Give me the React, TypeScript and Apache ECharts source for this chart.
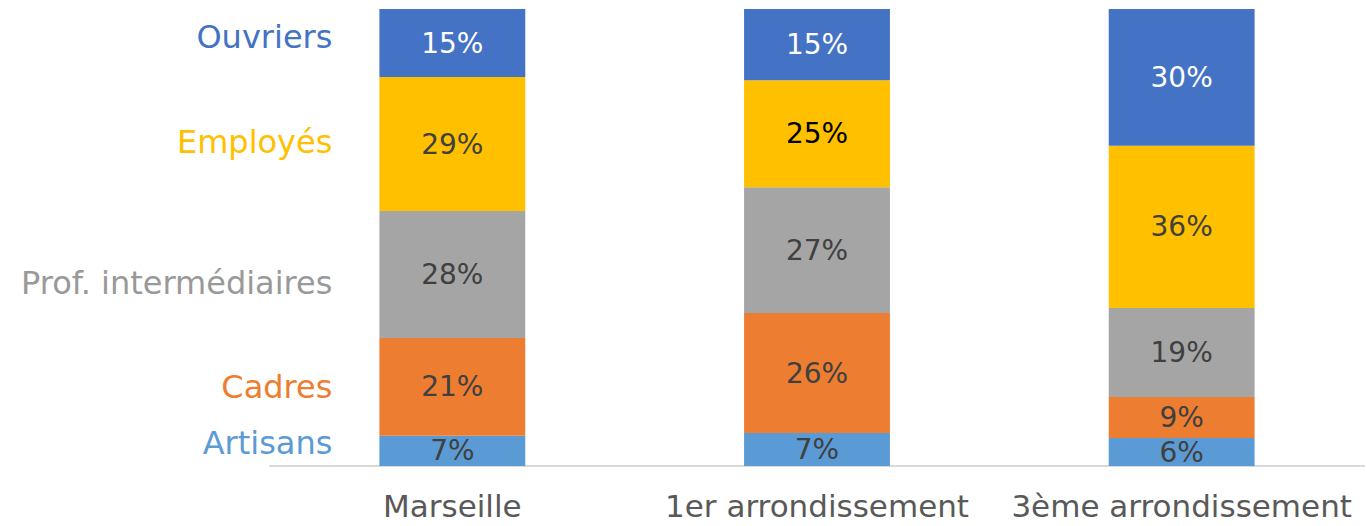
import React, { useEffect, useRef } from "react";
import * as echarts from "echarts";

const categories = ["Marseille", "1er arrondissement", "3ème arrondissement"];
const seriesNames = ["Artisans", "Cadres", "Prof. intermédiaires", "Employés", "Ouvriers"];
const artisans = [6.6, 7.2, 6.1];
const cadres = [21.4, 26.3, 9.0];
const profInter = [27.8, 27.5, 19.5];
const employes = [29.3, 23.4, 35.5];
const ouvriers = [14.9, 15.6, 29.9];
const artisansLabels = ["7%", "7%", "6%"];
const cadresLabels = ["21%", "26%", "9%"];
const profInterLabels = ["28%", "27%", "19%"];
const employesLabels = ["29%", "25%", "36%"];
const ouvriersLabels = ["15%", "15%", "30%"];

const colors = ["#5B9BD5", "#ED7D31", "#A5A5A5", "#FFC000", "#4472C4"];
const nameColors = ["#5B9BD5", "#ED7D31", "#999999", "#FFC000", "#4472C4"];
const nameOffsets = [-8, 0, 8, -2, -6];
const FONT = "DejaVu Sans";

export default function App() {
  const ref = useRef<HTMLDivElement>(null);
  useEffect(() => {
    if (!ref.current) return;
    const chart = echarts.init(ref.current, null, { renderer: "svg" });
    const values = [artisans, cadres, profInter, employes, ouvriers];
    const labels = [artisansLabels, cadresLabels, profInterLabels, employesLabels, ouvriersLabels];
    const labelColors = [
      ["#404040", "#404040", "#404040"],
      ["#404040", "#404040", "#404040"],
      ["#404040", "#404040", "#404040"],
      ["#404040", "#000000", "#404040"],
      ["#ffffff", "#ffffff", "#ffffff"],
    ];
    const series = seriesNames.map((name, si) => ({
      name,
      type: "bar",
      stack: "total",
      barWidth: "40%",
      itemStyle: { color: colors[si] },
      data: values[si].map((v, ci) => ({
        value: v,
        label: {
          show: true,
          position: "inside",
          formatter: labels[si][ci],
          color: labelColors[si][ci],
          fontSize: 28,
          fontFamily: FONT,
        },
      })),
    }));
    chart.setOption({
      animation: false,
      grid: { left: 270, right: 3, top: 9, bottom: 60 },
      xAxis: {
        type: "category",
        data: categories,
        axisLine: { lineStyle: { color: "#D9D9D9", width: 2 } },
        axisTick: { show: false },
        axisLabel: {
          color: "#595959",
          fontSize: 31,
          lineHeight: 30,
          fontFamily: FONT,
          margin: 25,
          interval: 0,
          hideOverlap: false,
        },
      },
      yAxis: { type: "value", min: 0, max: 100, show: false },
      series,
    });
    const graphics: any[] = [];
    let cum = 0;
    values.forEach((arr, si) => {
      const mid = cum + arr[0] / 2;
      cum += arr[0];
      const p = chart.convertToPixel({ gridIndex: 0 }, [categories[0], mid]) as number[];
      const p2 = chart.convertToPixel({ gridIndex: 0 }, [categories[1], mid]) as number[];
      const band = p2[0] - p[0];
      graphics.push({
        type: "text",
        x: p[0] - band * 0.2 - 47,
        y: p[1] + nameOffsets[si],
        style: {
          text: seriesNames[si],
          fill: nameColors[si],
          font: `32px "${FONT}"`,
          align: "right",
          verticalAlign: "middle",
        },
      });
    });
    chart.setOption({ graphic: graphics });
    return () => chart.dispose();
  }, []);
  return (
    <div
      ref={ref}
      style={{ position: "fixed", left: 0, top: 0, width: 1367, height: 526, background: "#fff" }}
    />
  );
}
